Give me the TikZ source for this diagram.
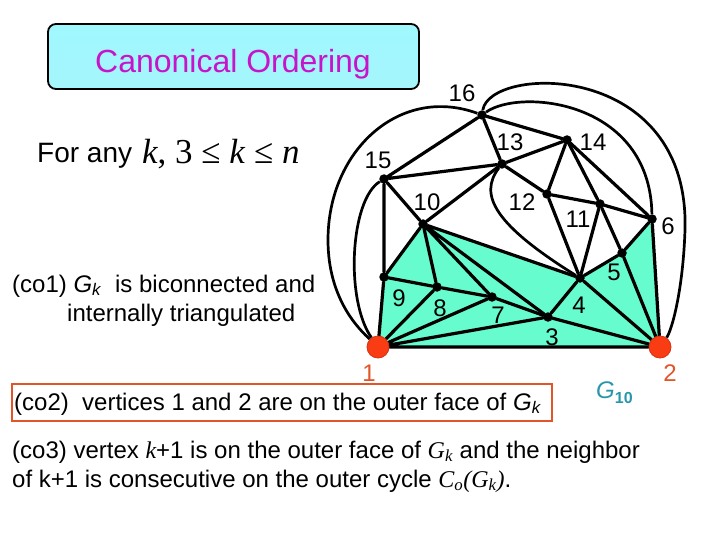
\documentclass[tikz,border=0pt]{standalone}
\usepackage{fontspec}
\setmainfont{Liberation Sans}
\newfontfamily\timesfont{Liberation Serif}
\usetikzlibrary{positioning, backgrounds}

\definecolor{coMagenta}{RGB}{200, 20, 200}
\definecolor{coBoxTop}{RGB}{160, 248, 255}
\definecolor{coBoxMid}{RGB}{232, 255, 255}
\definecolor{coBoxBottom}{RGB}{165, 245, 252}
\definecolor{coGreen}{RGB}{102, 252, 205}
\definecolor{coRed}{RGB}{250, 60, 20}
\definecolor{coOrange}{RGB}{225, 85, 40}
\definecolor{coTeal}{RGB}{40, 150, 170}

\newcommand{\GkSans}{\textit{G}\textsubscript{\textit{k}}}
\newcommand{\GkSerif}{{\timesfont\itshape G\textsubscript{k}}}

\begin{document}
\begin{tikzpicture}[
    x=1pt, y=-1pt,
    font=\fontsize{24}{29}\selectfont,
    vertex/.style={
        circle,
        fill=black,
        inner sep=0pt,
        minimum size=9.5pt
    },
    terminal/.style={
        circle,
        fill=coRed,
        draw=coRed!85!black,
        line width=0.8pt,
        inner sep=0pt,
        minimum size=22pt
    },
    edge/.style={
        draw=black,
        line width=3.2pt,
        line cap=round
    },
    arc/.style={
        draw=black,
        line width=2.7pt
    },
    vlabel/.style={
        inner sep=0pt,
        font=\fontsize{24}{24}\selectfont
    },
    tlabel/.style={
        vlabel,
        text=coOrange
    },
    titlebox/.style={
        draw=black,
        line width=1.8pt,
        rounded corners=8pt,
        top color=coBoxTop,
        middle color=coBoxMid,
        bottom color=coBoxBottom,
        minimum width=371pt,
        minimum height=65pt,
        inner sep=0pt
    },
    cond/.style={
        anchor=base west,
        inner sep=0pt
    },
    condbox/.style={
        draw=coOrange,
        line width=2.6pt,
        minimum width=540pt,
        minimum height=37pt,
        inner sep=0pt
    }
]
\useasboundingbox (0,0) rectangle (720,540);

% 1. Title and statement
\node[titlebox] (titlebox) at (233.5,56.5) {};
\node[anchor=base, font=\fontsize{32}{32}\selectfont, text=coMagenta] (title) at (233,72.5) {Canonical Ordering};
\node[cond, font=\fontsize{28}{28}\selectfont] (forany) at (37,163) {For any};
\node[cond, font=\fontsize{35}{35}\timesfont] (range) at (142,164) {\textit{k}, 3 ≤ \textit{k} ≤ \textit{n}};

% 2. Vertices of G (1 and 2 are the base edge)
\node[terminal] (v1) at (378,347) {};
\node[terminal] (v2) at (660,347) {};
\node[vertex] (v3) at (548,317) {};
\node[vertex] (v4) at (580,278) {};
\node[vertex] (v5) at (622,253) {};
\node[vertex] (v6) at (652,219) {};
\node[vertex] (v7) at (492,297) {};
\node[vertex] (v8) at (437,287) {};
\node[vertex] (v9) at (384,277) {};
\node[vertex] (v10) at (423,224) {};
\node[vertex] (v11) at (600,204) {};
\node[vertex] (v12) at (547,194) {};
\node[vertex] (v13) at (502,164) {};
\node[vertex] (v14) at (567,140) {};
\node[vertex] (v15) at (384,179) {};
\node[vertex] (v16) at (482,115) {};

% 3. G_10 region and edges
\begin{scope}[on background layer]
    \fill[coGreen] (v1.center) -- (v9.center) -- (v10.center) -- (v4.center)
        -- (v5.center) -- (v6.center) -- (v2.center) -- cycle;

    \draw[edge] (v1) -- (v2) (v1) -- (v3) (v1) -- (v7) (v1) -- (v8) (v1) -- (v9);
    \draw[edge] (v9) -- (v8) -- (v7) -- (v3) -- (v2);
    \draw[edge] (v10) -- (v9) (v10) -- (v8) (v10) -- (v7) (v10) -- (v3) (v10) -- (v4);
    \draw[edge] (v4) -- (v3) (v4) -- (v2) (v4) -- (v5) (v4) -- (v11) (v4) -- (v12);
    \draw[edge] (v5) -- (v2) (v5) -- (v6) (v5) -- (v11);
    \draw[edge] (v6) -- (v2) (v6) -- (v11) (v6) -- (v14);
    \draw[edge] (v12) -- (v11) (v12) -- (v13) (v12) -- (v14) (v11) -- (v14);
    \draw[edge] (v15) -- (v9) (v15) -- (v10) (v15) -- (v13) (v15) -- (v16);
    \draw[edge] (v13) -- (v10) (v13) -- (v14) (v13) -- (v16) (v16) -- (v14);

    \draw[arc] (v16) .. controls (400,85) and (328,150) .. (328,240)
        .. controls (328,300) and (360,330) .. (v1);
    \draw[arc] (v15) .. controls (350,200) and (345,300) .. (v1);
    \draw[arc] (v16) .. controls (520,88) and (650,100) .. (v6);
    \draw[arc] (v16) .. controls (490,65) and (690,60) .. (685,230)
        .. controls (683,290) and (672,330) .. (v2);
    \draw[arc] (v13) .. controls (478,195) and (495,225) .. (v4);
\end{scope}

% 4. Vertex labels
\node[tlabel] (l1) at (369,373) {1};
\node[tlabel] (l2) at (670,373) {2};
\node[vlabel] (l3) at (552,337) {3};
\node[vlabel] (l4) at (579,305) {4};
\node[vlabel] (l5) at (614,272) {5};
\node[vlabel] (l6) at (668,226) {6};
\node[vlabel] (l7) at (498,315) {7};
\node[vlabel] (l8) at (440,308) {8};
\node[vlabel] (l9) at (399,298) {9};
\node[vlabel] (l10) at (427,202) {10};
\node[vlabel] (l11) at (578,219) {11};
\node[vlabel] (l12) at (522,202) {12};
\node[vlabel] (l13) at (510,142) {13};
\node[vlabel] (l14) at (593,142) {14};
\node[vlabel] (l15) at (378,160) {15};
\node[vlabel] (l16) at (462,93) {16};
\node[cond, text=coTeal] (g10) at (596,398)
    {{\fontsize{24}{24}\selectfont\textit{G}}{\fontsize{16}{16}\selectfont\bfseries\raisebox{-5pt}{10}}};

% 5. Conditions
\node[cond] (co1) at (12,292) {(co1) \GkSans\ \ is biconnected and};
\node[cond] (co1b) at (67,321) {internally triangulated};
\node[condbox] (co2box) at (282,402.5) {};
\node[cond] (co2) at (14,410) {(co2)\ \ vertices 1 and 2 are on the outer face of \GkSans};
\node[cond] (co3) at (12,458) {(co3) vertex {\timesfont\itshape k}+1 is on the outer face of \GkSerif\ and the neighbor};
\node[cond] (co3b) at (12,487) {of k+1 is consecutive on the outer cycle {\timesfont\itshape C\textsubscript{o}(G\textsubscript{k})}.};

\end{tikzpicture}
\end{document}
